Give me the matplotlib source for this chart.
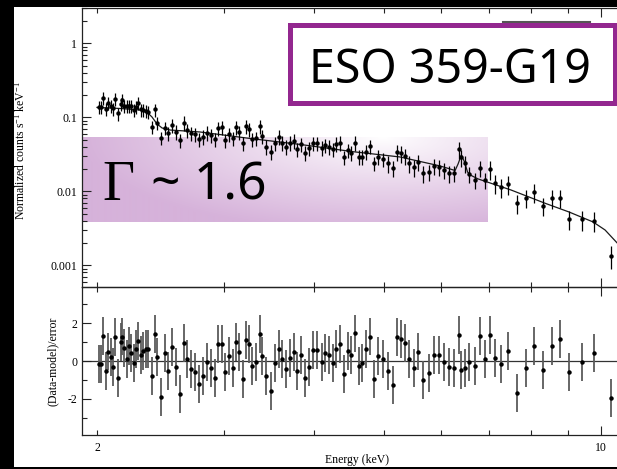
import numpy as np
import matplotlib
matplotlib.use("Agg")
import matplotlib.pyplot as plt
from matplotlib.patches import Rectangle
from matplotlib.lines import Line2D
from matplotlib.ticker import FixedLocator, FixedFormatter, LogLocator, FuncFormatter, NullFormatter

plt.rcParams["font.family"] = "Liberation Serif"
plt.rcParams["mathtext.fontset"] = "custom"
plt.rcParams["mathtext.rm"] = "Liberation Serif"
plt.rcParams["mathtext.it"] = "Liberation Serif:italic"
plt.rcParams["mathtext.bf"] = "Liberation Serif:bold"

# ---------------------------------------------------------------- spectrum
energy = [2.011, 2.026, 2.041, 2.056, 2.073, 2.089, 2.105, 2.120, 2.139, 2.157,
          2.168, 2.180, 2.199, 2.215, 2.232, 2.249, 2.266, 2.282, 2.302, 2.319,
          2.337, 2.354, 2.384, 2.405, 2.423, 2.454, 2.483, 2.511, 2.541, 2.572,
          2.607, 2.638, 2.666, 2.700, 2.735, 2.767, 2.806, 2.839, 2.875, 2.915,
          2.946, 2.978, 3.012, 3.048, 3.084, 3.120, 3.147, 3.184, 3.218, 3.246,
          3.283, 3.325, 3.361, 3.389, 3.433, 3.481, 3.529, 3.571, 3.612, 3.655,
          3.702, 3.746, 3.789, 3.838, 3.892, 3.942, 3.988, 4.032, 4.097, 4.144,
          4.193, 4.243, 4.292, 4.343, 4.395, 4.451, 4.502, 4.556, 4.610, 4.663,
          4.723, 4.775, 4.836, 4.908, 4.977, 5.057, 5.139, 5.215, 5.277, 5.345,
          5.413, 5.500, 5.583, 5.666, 5.776, 5.869, 5.952, 6.048, 6.151, 6.256,
          6.345, 6.398, 6.468, 6.563, 6.678, 6.792, 6.901, 7.005, 7.132, 7.270,
          7.434, 7.643, 7.866, 8.069, 8.296, 8.538, 8.759, 9.032, 9.397, 9.764,
          10.33]

counts = [0.139, 0.139, 0.181, 0.130, 0.155, 0.142, 0.132, 0.177, 0.113, 0.150,
          0.171, 0.142, 0.144, 0.144, 0.144, 0.126, 0.137, 0.155, 0.128, 0.126,
          0.122, 0.119, 0.0746, 0.128, 0.083, 0.052, 0.071, 0.0608, 0.0787, 0.0639,
          0.0493, 0.0845, 0.0673, 0.0608, 0.0589, 0.0504, 0.0547, 0.0619, 0.0576, 0.0504,
          0.071, 0.0733, 0.0493, 0.0589, 0.052, 0.0733, 0.0627, 0.0445, 0.0763, 0.0688,
          0.0504, 0.0525, 0.0763, 0.0559, 0.0401, 0.0343, 0.0445, 0.0547, 0.0454, 0.0401,
          0.0454, 0.0483, 0.037, 0.0436, 0.0332, 0.0381, 0.0445, 0.0445, 0.0388, 0.0418,
          0.0401, 0.037, 0.044, 0.0454, 0.0288, 0.0361, 0.0334, 0.0454, 0.0294, 0.0294,
          0.0343, 0.0409, 0.0239, 0.0294, 0.0273, 0.0239, 0.0205, 0.0343, 0.0326, 0.0303,
          0.0239, 0.0211, 0.0251, 0.0175, 0.0181, 0.022, 0.0215, 0.0194, 0.0175, 0.0178,
          0.037, 0.0288, 0.0239, 0.0171, 0.0142, 0.0205, 0.0142, 0.0198, 0.0128, 0.0113,
          0.0124, 0.00689, 0.00819, 0.00969, 0.00639, 0.00804, 0.00819, 0.00422, 0.00418, 0.00401,
          0.00135]

residuals = [-0.16, -0.16, 1.33, -0.55, 0.50, 0.23, -0.34, 1.27, -0.90, 0.99,
             1.29, 0.67, 0.09, 0.80, 0.41, -0.12, 0.62, 1.04, 0.34, 0.55,
             0.62, 0.65, -0.80, 1.42, 0.21, -1.89, 0.42, -0.53, 0.73, -0.30,
             -1.75, 0.96, 0.09, -0.42, -0.57, -1.22, -0.78, -0.04, -0.35, -0.90,
             0.90, 0.90, -0.58, 0.25, -0.37, 0.99, 0.48, -0.94, 1.11, 0.90,
             -0.25, -0.07, 1.43, 0.27, -0.81, -1.56, -0.09, 0.64, 0.11, -0.44,
             0.14, 0.46, -0.51, 0.30, -0.90, -0.32, 0.57, 0.57, -0.04, 0.42,
             0.34, -0.09, 0.64, 0.90, -0.71, 0.53, 0.30, 1.45, -0.27, -0.09,
             0.65, 1.29, -0.96, 0.28, 0.09, -0.53, -1.24, 1.26, 1.17, 0.94,
             0.11, -0.39, 0.50, -1.00, -0.65, 0.30, 0.32, -0.04, -0.34, -0.35,
             1.36, -0.46, -0.35, -0.05, -0.28, 1.31, 0.09, 1.36, 0.18, -0.18,
             0.51, -1.70, -0.35, 0.78, -0.48, 0.78, 1.17, -0.58, -0.05, 0.42,
             -1.93]

# fractional 1-sigma uncertainty of the counts, per energy band (keV)
err_band_edges = [2.5, 5.0, 7.0, 9.0, 10.0]
err_band_frac = [0.20, 0.22, 0.25, 0.28, 0.30, 0.35]

# folded model: absorbed power law + Fe K line
model_energy = [2.0, 2.013, 2.155, 2.296, 2.345, 2.384, 2.423, 2.462, 2.526, 2.652,
                2.780, 2.945, 3.264, 3.832, 4.530, 5.263, 5.982, 6.275, 6.335, 6.402,
                6.467, 6.530, 6.603, 6.752, 7.503, 8.365, 9.03, 9.75, 10.13, 10.53, 10.83]
model_counts = [0.136, 0.1357, 0.1315, 0.1255, 0.1179, 0.1009, 0.0812, 0.0717, 0.0673, 0.0653,
                0.0633, 0.0589, 0.0517, 0.0429, 0.0343, 0.0291, 0.0220, 0.0191, 0.0234, 0.0309,
                0.0249, 0.0182, 0.0164, 0.0147, 0.01041, 0.00689, 0.00525, 0.00385, 0.0030, 0.0020, 0.0016]

x_major = [10]
x_minor = [2, 3, 4, 5, 6, 7, 8, 9]
x_minor_labels = ["2", "", "", "", "", "", "", ""]
r_major = [-2, 0, 2]
r_major_labels = ["-2", "0", "2"]
r_minor = [-3, -1, 1, 3]

E_LIM = (1.9065, 10.83)
C_LIM = (5.09e-4, 3.0)
R_LIM = (-3.9, 3.9)

# ---------------------------------------------------------------- layout
W, H = 617, 469


def rect(x0, y0, x1, y1):
    """pixel box (top-left origin) -> figure-fraction [l, b, w, h]"""
    return [x0 / W, 1 - y1 / H, (x1 - x0) / W, (y1 - y0) / H]


fig = plt.figure(figsize=(W / 100, H / 100), dpi=100, facecolor="black")
fig.add_artist(Rectangle((14 / W, 1 - 467 / H), 1 - 14 / W, 460 / H,
                         transform=fig.transFigure, facecolor="white",
                         edgecolor="none", zorder=-10))

ax = fig.add_axes(rect(82, 8, 626, 287))
rax = fig.add_axes(rect(82, 287, 626, 435))
gax = fig.add_axes(rect(82, 137, 487, 222))
for a in (ax, rax):
    a.set_zorder(1)
    a.patch.set_visible(False)
gax.set_zorder(0.5)
gax.set_axis_off()

# soft pink highlight band behind the spectrum
gh, gw = 85, 405
vv, uu = np.mgrid[0:gh, 0:gw]
t = np.sqrt(((uu - 300) / 300.0) ** 2 + (vv / 95.0) ** 2)
t = np.clip(t, 0, 1) ** 0.9
pink = np.array([214, 178, 218]) / 255.0
img = 1.0 - (1.0 - pink)[None, None, :] * t[:, :, None]
gax.imshow(img, aspect="auto", extent=(0, 1, 0, 1), origin="upper",
           interpolation="bilinear")
gax.set_xlim(0, 1)
gax.set_ylim(0, 1)

# ---------------------------------------------------------------- data
e = np.array(energy)
c = np.array(counts)
frac = np.array(err_band_frac)[np.digitize(e, err_band_edges)]
c_err = c * frac

ax.plot(model_energy, model_counts, color="#1a1a1a", lw=0.9, zorder=2)
ax.errorbar(e, c, yerr=c_err, fmt="o", ms=2.2, mfc="black", mec="black",
            ecolor="black", elinewidth=0.9, capsize=0, zorder=3)

rax.axhline(0, color="#333333", lw=0.9, zorder=1)
rax.errorbar(e, residuals, yerr=1.0, fmt="o", ms=2.2, mfc="black", mec="black",
             ecolor="#5a5a5a", elinewidth=1.3, capsize=0, zorder=3)

# ---------------------------------------------------------------- axes
for a in (ax, rax):
    a.set_xscale("log")
    a.set_xlim(*E_LIM)
    a.xaxis.set_major_locator(FixedLocator(x_major))
    a.xaxis.set_minor_locator(FixedLocator(x_minor))
    a.tick_params(which="both", direction="in", top=True, right=True,
                  width=0.8, color="#222222", labelsize=8.5, labelcolor="black")
    a.tick_params(which="major", length=6.5)
    a.tick_params(which="minor", length=3.4)
    a.tick_params(axis="y", which="both", pad=3.6)
    a.tick_params(axis="x", which="both", pad=5)
    for s in a.spines.values():
        s.set_linewidth(0.9)
        s.set_color("#222222")

ax.xaxis.set_major_formatter(NullFormatter())
ax.xaxis.set_minor_formatter(NullFormatter())
rax.xaxis.set_major_formatter(FixedFormatter(["10"]))
rax.xaxis.set_minor_formatter(FixedFormatter(x_minor_labels))

ax.set_yscale("log")
ax.set_ylim(*C_LIM)
ax.yaxis.set_major_locator(LogLocator(base=10, numticks=10))
ax.yaxis.set_minor_locator(LogLocator(base=10, subs=np.arange(2, 10), numticks=30))
ax.yaxis.set_major_formatter(FuncFormatter(lambda v, p: f"{v:g}"))
ax.yaxis.set_minor_formatter(NullFormatter())

rax.set_ylim(*R_LIM)
rax.yaxis.set_major_locator(FixedLocator(r_major))
rax.yaxis.set_major_formatter(FixedFormatter(r_major_labels))
rax.yaxis.set_minor_locator(FixedLocator(r_minor))

ax.set_ylabel("Normalized counts s$^{-1}$ keV$^{-1}$", fontsize=8.5)
ax.yaxis.set_label_coords((28 - 82) / 544, 0.49)
rax.set_ylabel("(Data-model)/error", fontsize=8.5)
rax.yaxis.set_label_coords((59 - 82) / 544, 0.5)
rax.set_xlabel("Energy (keV)", fontsize=8.5)
rax.xaxis.set_label_coords(0.5055, (435 - 454) / 148)

# ---------------------------------------------------------------- annotations
fig.add_artist(Line2D([503 / W, 590 / W], [1 - 22.5 / H] * 2, color="#555555",
                      lw=1.5, zorder=3))
fig.add_artist(Rectangle((289.5 / W, 1 - 103.5 / H), 325 / W, 78 / H,
                         transform=fig.transFigure, facecolor="white",
                         edgecolor="#93278f", lw=3.6, zorder=4))
fig.text(450 / W, 1 - 83 / H, "ESO 359-G19", family="Noto Sans", fontsize=33.5,
         ha="center", va="baseline", zorder=5)
fig.text(102 / W, 1 - 200 / H, "Γ", family="Liberation Serif", fontsize=40,
         ha="left", va="baseline", zorder=5)
fig.text(151 / W, 1 - 200 / H, "~ 1.6", family="Noto Sans", fontsize=37,
         ha="left", va="baseline", zorder=5)

fig.savefig("out.png", dpi=100, facecolor="black")
